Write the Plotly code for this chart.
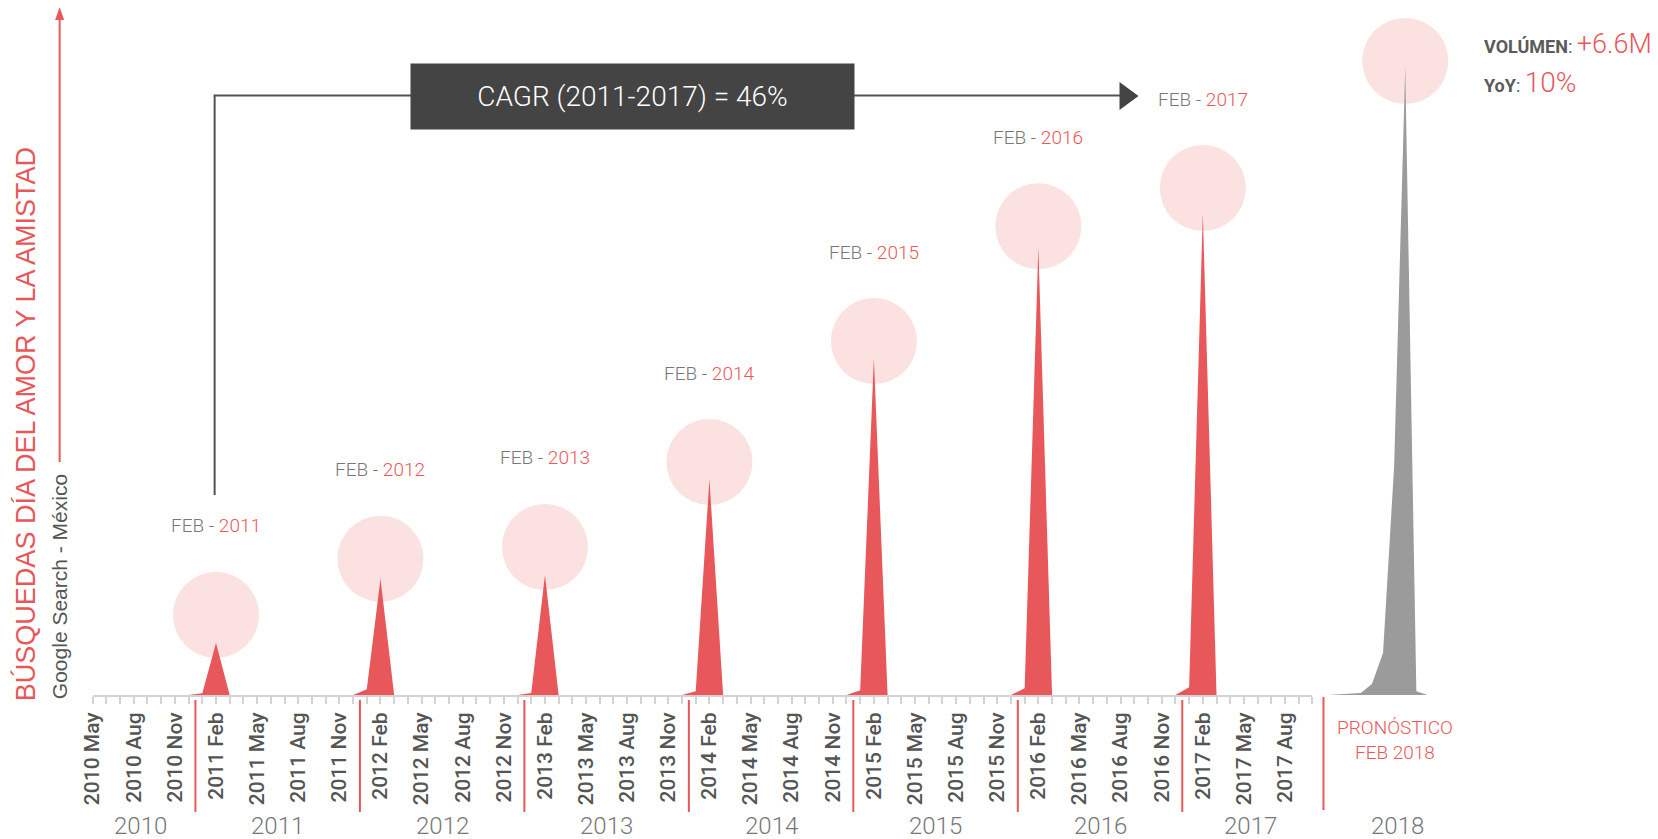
import plotly.graph_objects as go

# ---- data (Google Trends style index, Feb 2017 = 100) ----
MONTH_NAMES = ["Jan", "Feb", "Mar", "Apr", "May", "Jun",
               "Jul", "Aug", "Sep", "Oct", "Nov", "Dec"]
months = [f"{y} {m}" for y in range(2010, 2018) for m in MONTH_NAMES]
months = months[4:4 + 90]          # 2010 May .. 2017 Oct

vals_2010 = [0, 0, 0, 0, 0, 0, 0, 0]
vals_2011 = [0.35, 10.8, 0, 0, 0, 0, 0, 0, 0, 0, 0, 0]
vals_2012 = [1.2, 24.1, 0, 0, 0, 0, 0, 0, 0, 0, 0, 0]
vals_2013 = [0.4, 24.9, 0, 0, 0, 0, 0, 0, 0, 0, 0, 0]
vals_2014 = [0.8, 44.8, 0, 0, 0, 0, 0, 0, 0, 0, 0, 0]
vals_2015 = [1.0, 69.9, 0, 0, 0, 0, 0, 0, 0, 0, 0, 0]
vals_2016 = [1.4, 92.9, 0, 0, 0, 0, 0, 0, 0, 0, 0, 0]
vals_2017 = [1.6, 100.0, 0, 0, 0, 0, 0, 0, 0, 0]
values = (vals_2010 + vals_2011 + vals_2012 + vals_2013 + vals_2014
          + vals_2015 + vals_2016 + vals_2017)

peak_years = [2011, 2012, 2013, 2014, 2015, 2016, 2017]

# forecast, daily around 14 Feb 2018
fc_days = ["2018-02-07", "2018-02-08", "2018-02-09", "2018-02-10", "2018-02-11",
           "2018-02-12", "2018-02-13", "2018-02-14", "2018-02-15", "2018-02-16"]
fc_vals = [0, 0.15, 0.3, 0.4, 2.3, 8.7, 47.5, 130.3, 0.8, 0]

year_labels = ["2010", "2011", "2012", "2013", "2014", "2015", "2016", "2017"]

# ---- styling ----
W, H = 1658, 839
OFF_Y = 8
RED = "#e8585a"
PINK = "#fce1e1"
GREY_AREA = "#9b9b9b"
BOX = "#444444"
LINEC = "#4f5358"
TICKC = "#d3d3d3"
TXT = "#555555"
LIGHT = "#777777"
PX_PER_UNIT = 4.82
BASE_Y = 695  # page pixel row of the baseline


def px(x):
    # page pixel -> paper fraction (calibrated against the screenshot)
    return ((x - 11.4) / 0.9929 - 8) / W


def py(y):
    return 1 - (y - OFF_Y) / H


x_idx = list(range(len(months)))
feb_idx = [months.index(f"{y} Feb") for y in peak_years]
feb_vals = [values[i] for i in feb_idx]
lift_px = [28, 20, 28, 17, 17, 21, 25]
circle_y = [v + l / PX_PER_UNIT for v, l in zip(feb_vals, lift_px)]

fc_peak = max(fc_vals)
fc_peak_day = fc_days[fc_vals.index(fc_peak)]

fig = go.Figure()

# pink circles behind the spikes
fig.add_trace(go.Scatter(x=feb_idx, y=circle_y, mode="markers",
                         marker=dict(size=86, color=PINK, line=dict(width=0)),
                         cliponaxis=False, hoverinfo="skip", showlegend=False))
fig.add_trace(go.Scatter(x=[fc_peak_day], y=[fc_peak + 6 / PX_PER_UNIT],
                         xaxis="x2", mode="markers",
                         marker=dict(size=86, color=PINK, line=dict(width=0)),
                         cliponaxis=False, hoverinfo="skip", showlegend=False))

fig.add_trace(go.Scatter(x=x_idx, y=values, mode="lines", fill="tozeroy",
                         fillcolor=RED, line=dict(width=0, color=RED),
                         showlegend=False))
fig.add_trace(go.Scatter(x=fc_days, y=fc_vals, xaxis="x2", mode="lines",
                         fill="tozeroy", fillcolor=GREY_AREA,
                         line=dict(width=0, color=GREY_AREA), showlegend=False))

ticktext = [m if i % 3 == 0 else "" for i, m in enumerate(months)]

fig.update_layout(
    width=W, height=H,
    margin=dict(l=0, r=0, t=0, b=0),
    paper_bgcolor="white", plot_bgcolor="white",
    font=dict(family="Roboto", color=TXT),
    xaxis=dict(domain=[px(92), px(1312)], range=[0, len(months) - 1],
               tickmode="array", tickvals=x_idx, ticktext=ticktext,
               tickangle=-90, ticks="outside", ticklen=7, tickwidth=2,
               tickcolor=TICKC, showline=True, linecolor=TICKC, linewidth=2,
               showgrid=False, zeroline=False, ticklabelstandoff=0,
               tickfont=dict(family="Roboto", size=21, color=TXT, weight=500)),
    xaxis2=dict(domain=[px(1327), px(1427)], range=[fc_days[0], fc_days[-1]],
                type="date", anchor="y", visible=False),
    yaxis=dict(domain=[py(BASE_Y), 1], range=[0, (BASE_Y - OFF_Y) / PX_PER_UNIT],
               visible=False),
)

annotations = []
shapes = []

# FEB - YYYY labels
for x, cy, yr in zip(feb_idx, circle_y, peak_years):
    annotations.append(dict(
        x=x, y=cy, xref="x", yref="y", yshift=89, showarrow=False,
        xanchor="center", yanchor="middle",
        text=f"FEB - <span style='color:{RED}'>{yr}</span>",
        font=dict(family="Roboto", size=19, color=LIGHT, weight=300)))

# year labels and red separators
for yl in year_labels:
    idx = [i for i, m in enumerate(months) if m.startswith(yl)]
    annotations.append(dict(
        x=sum(idx) / len(idx), y=py(826), xref="x", yref="paper",
        showarrow=False, text=yl, xanchor="center", yanchor="middle",
        font=dict(family="Roboto", size=24, color=LIGHT, weight=300)))
    if yl != year_labels[0]:
        shapes.append(dict(type="line", xref="x", yref="paper",
                           x0=idx[0] - 0.5, x1=idx[0] - 0.5,
                           y0=py(700), y1=py(812),
                           line=dict(color=RED, width=2)))
shapes.append(dict(type="line", xref="paper", yref="paper",
                   x0=px(1323), x1=px(1323), y0=py(697), y1=py(810),
                   line=dict(color=RED, width=2)))
annotations.append(dict(x=px(1397), y=py(826), xref="paper", yref="paper",
                        showarrow=False, text="2018",
                        xanchor="center", yanchor="middle",
                        font=dict(family="Roboto", size=24, color=LIGHT, weight=300)))
annotations.append(dict(x=px(1395), y=py(740), xref="paper", yref="paper",
                        showarrow=False, text="PRONÓSTICO<br>FEB 2018",
                        xanchor="center", yanchor="middle",
                        font=dict(family="Roboto", size=19, color=RED, weight=300)))

# CAGR bracket
shapes.append(dict(type="line", xref="paper", yref="paper",
                   x0=px(214), x1=px(214), y0=py(495), y1=py(95.5),
                   line=dict(color=LINEC, width=2)))
shapes.append(dict(type="line", xref="paper", yref="paper",
                   x0=px(213), x1=px(1121), y0=py(95.5), y1=py(95.5),
                   line=dict(color=LINEC, width=2)))
shapes.append(dict(type="path", xref="paper", yref="paper",
                   path=f"M {px(1119)},{py(82)} L {px(1138)},{py(96)} "
                        f"L {px(1119)},{py(110)} Z",
                   fillcolor=BOX, line=dict(width=0)))
annotations.append(dict(x=px(631.5), y=py(96.5), xref="paper", yref="paper",
                        showarrow=False, text="CAGR (2011-2017) = 46%",
                        bgcolor=BOX, width=443, height=65, borderpad=0,
                        xanchor="center", yanchor="middle",
                        font=dict(family="Roboto", size=28, color="white", weight=300)))

# y axis title with arrow
shapes.append(dict(type="line", xref="paper", yref="paper",
                   x0=px(59), x1=px(59), y0=py(462), y1=py(18),
                   line=dict(color=RED, width=2)))
shapes.append(dict(type="path", xref="paper", yref="paper",
                   path=f"M {px(54.5)},{py(20)} L {px(59)},{py(7)} "
                        f"L {px(63.5)},{py(20)} Z",
                   fillcolor=RED, line=dict(width=0)))
annotations.append(dict(x=px(25), y=py(424.5), xref="paper", yref="paper",
                        showarrow=False, textangle=-90,
                        xanchor="center", yanchor="middle",
                        text="BÚSQUEDAS DÍA DEL AMOR Y LA AMISTAD",
                        font=dict(family="Liberation Sans", size=27, color=RED)))
annotations.append(dict(x=px(59), y=py(586.5), xref="paper", yref="paper",
                        showarrow=False, textangle=-90,
                        xanchor="center", yanchor="middle",
                        text="Google Search - México",
                        font=dict(family="Liberation Sans", size=21, color=TXT)))

# forecast figures
annotations.append(dict(x=px(1482), y=py(44), xref="paper", yref="paper",
                        showarrow=False, xanchor="left", yanchor="middle",
                        text=f"<b>VOLÚMEN</b>: <span style='font-size:27px;color:{RED};"
                             f"font-weight:300'>+6.6M</span>",
                        font=dict(family="Roboto", size=18, color="#5b5b5b")))
annotations.append(dict(x=px(1482), y=py(82), xref="paper", yref="paper",
                        showarrow=False, xanchor="left", yanchor="middle",
                        text=f"<b>YoY</b>: <span style='font-size:28px;color:{RED};"
                             f"font-weight:300'>10%</span>",
                        font=dict(family="Roboto", size=18, color="#5b5b5b")))

fig.update_layout(annotations=annotations, shapes=shapes)

fig.write_html("out.html")
